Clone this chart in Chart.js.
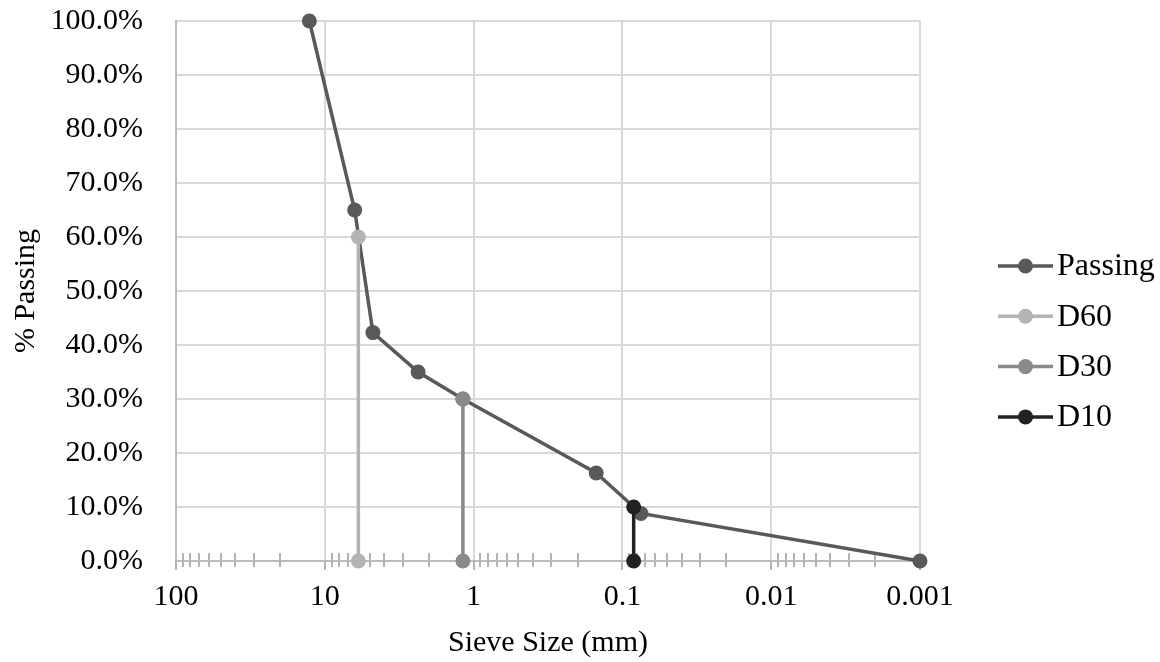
<!DOCTYPE html>
<html>
<head>
<meta charset="utf-8">
<script src="https://cdn.jsdelivr.net/npm/chart.js@4/dist/chart.umd.min.js"></script>
<style>
  html, body { margin: 0; padding: 0; background: #fff; }
  #wrap { width: 1160px; height: 662px; }
</style>
</head>
<body>
<div id="wrap"><canvas id="chart"></canvas></div>
<script>
// ------ DATA ------
var sieveSize = [12.7, 6.3, 4.75, 2.36, 1.18, 0.15, 0.075, 0.001];
var passing = [100, 65, 42.3, 35, 30, 16.3, 8.8, 0];

var d60Size = [5.95, 5.95];
var d60Pass = [60, 0];
var d30Size = [1.18, 1.18];
var d30Pass = [30, 0];
var d10Size = [0.084, 0.084];
var d10Pass = [10, 0];

var seriesNames = ['Passing', 'D60', 'D30', 'D10'];
var seriesColors = ['#595959', '#b4b4b4', '#8a8a8a', '#222222'];

var decades = [0.001, 0.01, 0.1, 1, 10];
var steps = [1, 2, 3, 4, 5, 6, 7, 8, 9];
var majorLabels = ['0.001', '0.01', '0.1', '1', '10', '100'];
var yTicks = [0, 10, 20, 30, 40, 50, 60, 70, 80, 90, 100];

var FONT = "'Liberation Serif', 'Times New Roman', serif";

function toPoints(xs, ys) {
  return xs.map(function (x, i) { return { x: x, y: ys[i] }; });
}

var xTickValues = [];
decades.forEach(function (d) {
  steps.forEach(function (s) { xTickValues.push(+(d * s).toPrecision(6)); });
});
xTickValues.push(100);

function isMajor(v) {
  return majorLabels.indexOf(String(v)) >= 0;
}

// minor tick marks crossing the x axis, like excel
var axisTicks = {
  id: 'axisTicks',
  beforeDatasetsDraw: function (chart) {
    var sc = chart.scales.x;
    var yPix = chart.chartArea.bottom;
    var ctx = chart.ctx;
    ctx.save();
    ctx.strokeStyle = '#b4b4b4';
    ctx.lineWidth = 2;
    sc.ticks.forEach(function (t) {
      var x = Math.round(sc.getPixelForValue(t.value));
      ctx.beginPath();
      if (t.major) {
        ctx.moveTo(x, yPix);
        ctx.lineTo(x, yPix + 9);
      } else {
        ctx.moveTo(x, yPix - 8);
        ctx.lineTo(x, yPix + 6);
      }
      ctx.stroke();
    });
    ctx.restore();
  }
};

// legend on the right, line with a dot
var sideLegend = {
  id: 'sideLegend',
  afterDraw: function (chart) {
    var ctx = chart.ctx;
    var top = 266, gap = 50.3, x0 = 998, x1 = 1053;
    ctx.save();
    chart.data.datasets.forEach(function (ds, i) {
      var y = top + i * gap;
      ctx.strokeStyle = ds.borderColor;
      ctx.lineWidth = 3.5;
      ctx.beginPath();
      ctx.moveTo(x0, y);
      ctx.lineTo(x1, y);
      ctx.stroke();
      ctx.fillStyle = ds.borderColor;
      ctx.beginPath();
      ctx.arc((x0 + x1) / 2, y, 7.5, 0, Math.PI * 2);
      ctx.fill();
      ctx.fillStyle = '#000';
      ctx.font = '32px ' + FONT;
      ctx.textBaseline = 'middle';
      ctx.textAlign = 'left';
      ctx.fillText(ds.label, x1 + 4, y + 1);
    });
    ctx.restore();
  }
};

var sets = [
  toPoints(sieveSize, passing),
  toPoints(d60Size, d60Pass),
  toPoints(d30Size, d30Pass),
  toPoints(d10Size, d10Pass)
];

var datasets = sets.map(function (pts, i) {
  return {
    label: seriesNames[i],
    data: pts,
    showLine: true,
    clip: false,
    borderColor: seriesColors[i],
    backgroundColor: seriesColors[i],
    borderWidth: 3.5,
    pointRadius: 7.5,
    pointHoverRadius: 7.5,
    pointBorderWidth: 0,
    pointBackgroundColor: seriesColors[i],
    order: 4 - i
  };
});

Chart.defaults.font.family = FONT;
Chart.defaults.color = '#000';

var chart = new Chart(document.getElementById('chart'), {
  type: 'scatter',
  data: { datasets: datasets },
  plugins: [axisTicks, sideLegend],
  options: {
    responsive: true,
    maintainAspectRatio: false,
    animation: false,
    layout: { padding: { top: 21, right: 240, left: 0, bottom: 0 } },
    plugins: {
      legend: { display: false },
      tooltip: { enabled: false }
    },
    scales: {
      x: {
        type: 'logarithmic',
        reverse: true,
        min: 0.001,
        max: 100,
        afterBuildTicks: function (scale) {
          scale.ticks = xTickValues.map(function (v) {
            return { value: v, major: isMajor(v) };
          });
        },
        afterFit: function (scale) {
          scale.height = 101;
          scale.paddingLeft = 0;
          scale.paddingRight = 0;
        },
        grid: {
          drawTicks: false,
          lineWidth: 2,
          color: function (c) {
            return c.tick && isMajor(c.tick.value) ? '#d9d9d9' : 'rgba(0,0,0,0)';
          }
        },
        border: { color: '#bcbcbc', width: 2 },
        ticks: {
          autoSkip: false,
          maxRotation: 0,
          padding: 18,
          font: { size: 30 },
          callback: function (v) { return isMajor(v) ? String(v) : ''; }
        },
        title: {
          display: true,
          text: 'Sieve Size (mm)',
          font: { size: 30 },
          padding: { top: 0, bottom: 1 }
        }
      },
      y: {
        min: 0,
        max: 100,
        afterBuildTicks: function (scale) {
          scale.ticks = yTicks.map(function (v) { return { value: v }; });
        },
        afterFit: function (scale) {
          scale.width = 176;
          scale.paddingTop = 0;
          scale.paddingBottom = 0;
        },
        grid: { drawTicks: false, lineWidth: 2, color: '#d9d9d9' },
        border: { color: '#bcbcbc', width: 2 },
        ticks: {
          padding: 33,
          font: { size: 30 },
          callback: function (v) { return v.toFixed(1) + '%'; }
        },
        title: {
          display: true,
          text: '% Passing',
          font: { size: 30 },
          padding: { top: 8, bottom: 0 }
        }
      }
    }
  }
});
</script>
</body>
</html>
